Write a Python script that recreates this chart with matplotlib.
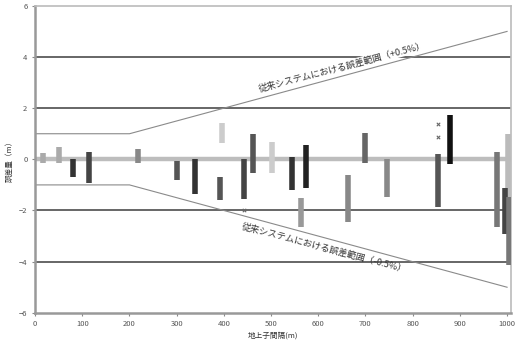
import numpy as np
import matplotlib.pyplot as plt

plt.rcParams['font.family'] = ['Noto Sans CJK JP', 'DejaVu Sans']

# measured error ranges per site (distance between balises, min/max error)
dist = [16, 51, 80, 115, 219, 301, 338, 397, 391, 442, 461, 502,
        544, 574, 563, 664, 698, 745, 853, 880, 979, 1002, 995, 1004]
err_max = [0.24, 0.50, 0.00, 0.30, 0.40, -0.05, 0.00, 1.42, -0.70, 0.00, 0.98, 0.68,
           0.10, 0.55, -1.50, -0.63, 1.02, 0.00, 0.20, 1.72, 0.29, 1.00, -1.14, -1.48]
err_min = [-0.16, -0.15, -0.70, -0.93, -0.15, -0.80, -1.35, 0.64, -1.60, -1.57, -0.55, -0.54,
           -1.18, -1.14, -2.65, -2.46, -0.16, -1.48, -1.87, -0.17, -2.65, -2.50, -2.90, -4.15]
shade = ['#aaaaaa', '#aaaaaa', '#333333', '#444444', '#888888', '#555555', '#333333',
         '#cccccc', '#555555', '#444444', '#555555', '#cccccc', '#333333', '#222222',
         '#999999', '#888888', '#666666', '#888888', '#555555', '#111111', '#777777',
         '#bbbbbb', '#444444', '#777777']

# outlying single readings
out_x = [853, 853, 442]
out_y = [1.37, 0.87, -2.0]

# conventional system tolerance: +-1 m up to 200 m, then +-0.5 %
env_x = [0, 200, 1000]
env_y = [1, 1, 5]

fig = plt.figure(figsize=(5.16, 3.43), dpi=100)
ax = fig.add_axes([0.068, 0.088, 0.922, 0.895])

for yv in [-4, -2, 2, 4]:
    ax.axhline(yv, color='#666666', lw=1.4, zorder=1)
ax.axhline(0, color='#bdbdbd', lw=3.2, zorder=1)

ax.plot(env_x, env_y, color='#8a8a8a', lw=0.8, zorder=2)
ax.plot(env_x, [-v for v in env_y], color='#8a8a8a', lw=0.8, zorder=2)

ax.vlines(dist, err_min, err_max, colors=shade, lw=4, zorder=3)
ax.scatter(out_x, out_y, marker='x', s=6, color='#666666', lw=0.8, zorder=3)

ax.text(650, 3.6, '従来システムにおける誤差範囲（+0.5%）', fontsize=6.6,
        rotation=14.8, ha='center', va='center', color='#333333',
        bbox=dict(facecolor='white', edgecolor='none', pad=0.5), zorder=4)
ax.text(613, -3.45, '従来システムにおける誤差範囲（-0.5%）', fontsize=6.6,
        rotation=-14.8, ha='center', va='center', color='#333333', zorder=4)

ax.set_xlim(0, 1008)
ax.set_ylim(-6, 6)
ax.set_xticks(np.arange(0, 1001, 100))
ax.set_yticks([-6, -4, -2, 0, 2, 4, 6])
ax.tick_params(labelsize=5.5, labelcolor='#555555', length=2, color='#888888')
ax.set_xlabel('地上子間隔(m)', fontsize=5.5, color='#333333', labelpad=2)
ax.set_ylabel('誤差量（m）', fontsize=5.5, color='#333333', labelpad=4)

for side in ['left', 'bottom']:
    ax.spines[side].set_color('#999999')
    ax.spines[side].set_linewidth(1.8)
for side in ['top', 'right']:
    ax.spines[side].set_color('#bbbbbb')
    ax.spines[side].set_linewidth(1.2)

fig.savefig('out.png')
